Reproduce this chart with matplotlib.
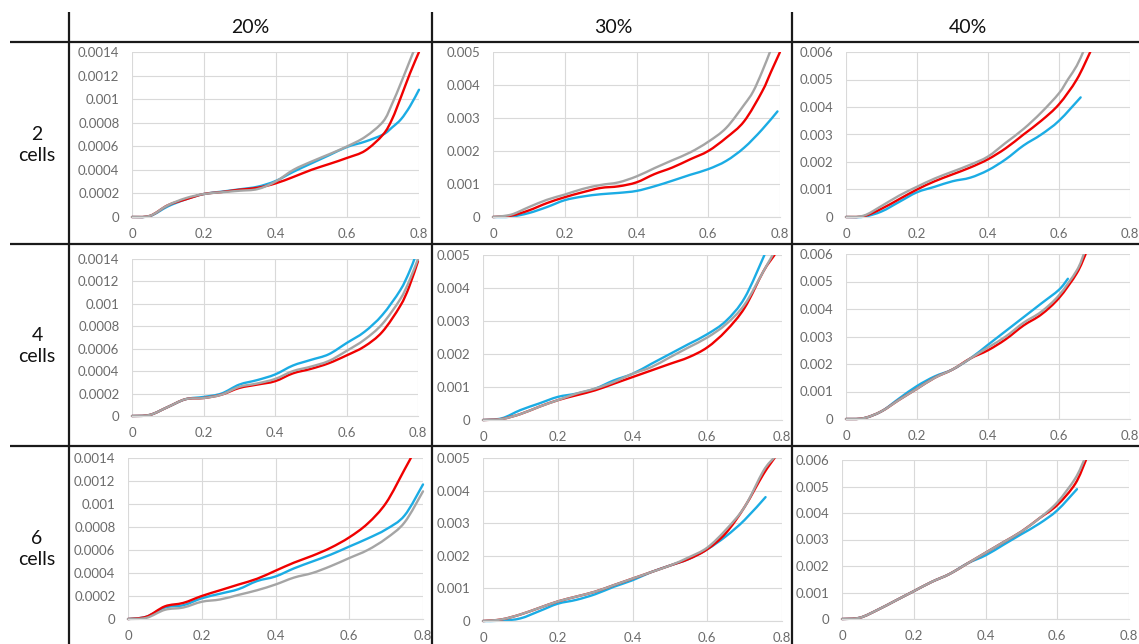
import numpy as np
import matplotlib
matplotlib.use("Agg")
import matplotlib.pyplot as plt
from matplotlib.patches import Rectangle, PathPatch
from matplotlib.path import Path
from matplotlib.ticker import FuncFormatter, FixedLocator

plt.rcParams['font.family'] = ['Lato', 'DejaVu Sans']

# ---------------------------------------------------------------- data
column_labels = ["20%", "30%", "40%"]
row_labels = ["2\ncells", "4\ncells", "6\ncells"]
x_ticks = [0, 0.2, 0.4, 0.6, 0.8]
y_max = [0.0014, 0.005, 0.006]
y_step = [0.0002, 0.001, 0.001]

# 2 cells, 20 %
c2_p20_red = [(0, 0), (0.05, 0.00001), (0.1, 0.0001), (0.15, 0.00015), (0.2, 0.000195),
              (0.25, 0.000212), (0.3, 0.000232), (0.35, 0.000248), (0.4, 0.000285),
              (0.45, 0.00034), (0.5, 0.0004), (0.55, 0.00045), (0.6, 0.000502),
              (0.65, 0.000563), (0.7, 0.0007), (0.725, 0.00083), (0.75, 0.00102),
              (0.775, 0.00122), (0.8, 0.0014)]
c2_p20_blue = [(0, 0), (0.05, 0.000008), (0.1, 0.00009), (0.15, 0.00015), (0.2, 0.000195),
               (0.25, 0.000215), (0.3, 0.000235), (0.35, 0.000257), (0.4, 0.000305),
               (0.45, 0.000384), (0.5, 0.000455), (0.55, 0.000525), (0.6, 0.000595),
               (0.65, 0.00064), (0.7, 0.0007), (0.725, 0.00076), (0.75, 0.00083),
               (0.775, 0.00094), (0.8, 0.00108)]
c2_p20_gray = [(0, 0), (0.05, 0.00001), (0.1, 0.0001), (0.15, 0.00016), (0.2, 0.000195),
               (0.25, 0.00021), (0.3, 0.000223), (0.35, 0.000237), (0.4, 0.0003),
               (0.45, 0.0004), (0.5, 0.00047), (0.55, 0.000533), (0.6, 0.0006),
               (0.65, 0.00068), (0.7, 0.00081), (0.725, 0.00096), (0.75, 0.00114),
               (0.775, 0.00133), (0.8, 0.00152)]

# 2 cells, 30 %
c2_p30_red = [(0, 0), (0.05, 0.00004), (0.1, 0.0002), (0.15, 0.00042), (0.2, 0.0006),
              (0.25, 0.00075), (0.3, 0.00088), (0.35, 0.00093), (0.4, 0.00105),
              (0.45, 0.0013), (0.5, 0.0015), (0.55, 0.00175), (0.6, 0.002),
              (0.65, 0.0024), (0.7, 0.0029), (0.75, 0.0038), (0.775, 0.0044), (0.8, 0.005)]
c2_p30_blue = [(0, 0), (0.05, 0.00001), (0.1, 0.00012), (0.15, 0.0003), (0.2, 0.00051),
               (0.25, 0.00062), (0.3, 0.00069), (0.35, 0.00073), (0.4, 0.00079),
               (0.45, 0.00093), (0.5, 0.0011), (0.55, 0.00128), (0.6, 0.00145),
               (0.65, 0.0017), (0.7, 0.0021), (0.75, 0.00265), (0.793, 0.0032)]
c2_p30_gray = [(0, 0), (0.05, 0.00007), (0.1, 0.0003), (0.15, 0.00052), (0.2, 0.00068),
               (0.25, 0.00085), (0.3, 0.00097), (0.35, 0.00105), (0.4, 0.00123),
               (0.45, 0.00148), (0.5, 0.00172), (0.55, 0.00196), (0.6, 0.00228),
               (0.65, 0.0027), (0.7, 0.0034), (0.725, 0.0038), (0.75, 0.0044),
               (0.772, 0.005)]

# 2 cells, 40 %
c2_p40_red = [(0, 0), (0.05, 0.00003), (0.1, 0.0003), (0.15, 0.00065), (0.2, 0.001),
              (0.25, 0.0013), (0.3, 0.00155), (0.35, 0.0018), (0.4, 0.0021), (0.45, 0.0025),
              (0.5, 0.003), (0.55, 0.0035), (0.6, 0.0041), (0.65, 0.005), (0.688, 0.006)]
c2_p40_blue = [(0, 0), (0.05, 0.00001), (0.1, 0.0002), (0.15, 0.00055), (0.2, 0.0009),
               (0.25, 0.0011), (0.3, 0.0013), (0.35, 0.00143), (0.4, 0.0017),
               (0.45, 0.0021), (0.5, 0.0026), (0.55, 0.003), (0.6, 0.0035), (0.661, 0.00435)]
c2_p40_gray = [(0, 0), (0.05, 0.00005), (0.1, 0.0004), (0.15, 0.00078), (0.2, 0.0011),
               (0.25, 0.0014), (0.3, 0.00165), (0.35, 0.0019), (0.4, 0.0022), (0.45, 0.0027),
               (0.5, 0.0032), (0.55, 0.0038), (0.6, 0.0045), (0.625, 0.005), (0.65, 0.0055),
               (0.668, 0.006)]

# 4 cells, 20 %
c4_p20_red = [(0, 0), (0.05, 0.00001), (0.1, 0.00008), (0.15, 0.00015), (0.2, 0.00016),
              (0.25, 0.00019), (0.3, 0.00025), (0.35, 0.00028), (0.4, 0.00031),
              (0.45, 0.00038), (0.5, 0.00042), (0.55, 0.00047), (0.6, 0.00054),
              (0.65, 0.00062), (0.7, 0.00075), (0.75, 0.00098), (0.775, 0.00115),
              (0.8, 0.00138)]
c4_p20_blue = [(0, 0), (0.05, 0.00001), (0.1, 0.00008), (0.15, 0.00015), (0.2, 0.00017),
               (0.25, 0.0002), (0.3, 0.00028), (0.35, 0.00032), (0.4, 0.00037),
               (0.45, 0.00045), (0.5, 0.0005), (0.55, 0.00055), (0.6, 0.00065),
               (0.65, 0.00075), (0.7, 0.0009), (0.75, 0.00112), (0.775, 0.00128),
               (0.79, 0.0014)]
c4_p20_gray = [(0, 0), (0.05, 0.00001), (0.1, 0.00008), (0.15, 0.00015), (0.2, 0.00016),
               (0.25, 0.00019), (0.3, 0.00026), (0.35, 0.00029), (0.4, 0.00033),
               (0.45, 0.0004), (0.5, 0.00044), (0.55, 0.00049), (0.6, 0.00058),
               (0.65, 0.00068), (0.7, 0.00082), (0.75, 0.00104), (0.775, 0.0012),
               (0.8, 0.0014)]

# 4 cells, 30 %
c4_p30_red = [(0, 0), (0.05, 0.00003), (0.1, 0.00018), (0.15, 0.0004), (0.2, 0.0006),
              (0.25, 0.00075), (0.3, 0.0009), (0.35, 0.0011), (0.4, 0.0013), (0.45, 0.0015),
              (0.5, 0.0017), (0.55, 0.0019), (0.6, 0.0022), (0.65, 0.0027), (0.7, 0.0034),
              (0.75, 0.0045), (0.78, 0.005)]
c4_p30_blue = [(0, 0), (0.05, 0.00005), (0.1, 0.0003), (0.15, 0.0005), (0.2, 0.0007),
               (0.25, 0.0008), (0.3, 0.00095), (0.35, 0.0012), (0.4, 0.0014), (0.45, 0.0017),
               (0.5, 0.002), (0.55, 0.0023), (0.6, 0.0026), (0.65, 0.003), (0.7, 0.0037),
               (0.753, 0.005)]
c4_p30_gray = [(0, 0), (0.05, 0.00003), (0.1, 0.00018), (0.15, 0.0004), (0.2, 0.0006),
               (0.25, 0.0008), (0.3, 0.00095), (0.35, 0.00115), (0.4, 0.0014),
               (0.45, 0.0016), (0.5, 0.0019), (0.55, 0.0022), (0.6, 0.0025), (0.65, 0.0029),
               (0.7, 0.0035), (0.75, 0.0045), (0.775, 0.005)]

# 4 cells, 40 %
c4_p40_red = [(0, 0), (0.05, 0.00003), (0.1, 0.00028), (0.15, 0.0007), (0.2, 0.0011),
              (0.25, 0.0015), (0.3, 0.0018), (0.35, 0.0022), (0.4, 0.0025), (0.45, 0.0029),
              (0.5, 0.0034), (0.55, 0.0038), (0.6, 0.0044), (0.65, 0.0053), (0.675, 0.006)]
c4_p40_blue = [(0, 0), (0.05, 0.00003), (0.1, 0.00028), (0.15, 0.00075), (0.2, 0.0012),
               (0.25, 0.00155), (0.3, 0.0018), (0.35, 0.0022), (0.4, 0.0027),
               (0.45, 0.0032), (0.5, 0.0037), (0.55, 0.0042), (0.6, 0.0047), (0.625, 0.0051)]
c4_p40_gray = [(0, 0), (0.05, 0.00003), (0.1, 0.00028), (0.15, 0.0007), (0.2, 0.0011),
               (0.25, 0.0015), (0.3, 0.0018), (0.35, 0.0022), (0.4, 0.0026), (0.45, 0.003),
               (0.5, 0.0035), (0.55, 0.0039), (0.6, 0.0045), (0.65, 0.0054), (0.67, 0.006)]

# 6 cells, 20 %
c6_p20_red = [(0, 0), (0.05, 0.00002), (0.1, 0.00011), (0.15, 0.00014), (0.2, 0.0002),
              (0.25, 0.00025), (0.3, 0.0003), (0.35, 0.00035), (0.4, 0.00042),
              (0.45, 0.00049), (0.5, 0.00055), (0.55, 0.00062), (0.6, 0.00071),
              (0.65, 0.00083), (0.7, 0.00101), (0.75, 0.0013), (0.767, 0.0014)]
c6_p20_blue = [(0, 0), (0.05, 0.00002), (0.1, 0.0001), (0.15, 0.00012), (0.2, 0.00018),
               (0.25, 0.00022), (0.3, 0.00026), (0.35, 0.00033), (0.4, 0.00037),
               (0.45, 0.00044), (0.5, 0.0005), (0.55, 0.00056), (0.6, 0.00063),
               (0.65, 0.0007), (0.7, 0.00078), (0.75, 0.0009), (0.8, 0.00117)]
c6_p20_gray = [(0, 0), (0.05, 0.00001), (0.1, 0.00008), (0.15, 0.0001), (0.2, 0.00015),
               (0.25, 0.00017), (0.3, 0.00021), (0.35, 0.00025), (0.4, 0.0003),
               (0.45, 0.00036), (0.5, 0.0004), (0.55, 0.00046), (0.6, 0.00053),
               (0.65, 0.0006), (0.7, 0.0007), (0.75, 0.00084), (0.8, 0.00111)]

# 6 cells, 30 %
c6_p30_red = [(0, 0), (0.05, 0.00005), (0.1, 0.0002), (0.15, 0.0004), (0.2, 0.0006),
              (0.25, 0.00075), (0.3, 0.0009), (0.35, 0.0011), (0.4, 0.0013), (0.45, 0.0015),
              (0.5, 0.0017), (0.55, 0.0019), (0.6, 0.0022), (0.65, 0.0027), (0.7, 0.0035),
              (0.75, 0.0045), (0.78, 0.005)]
c6_p30_blue = [(0, 0), (0.05, 0.00001), (0.1, 0.00008), (0.15, 0.0003), (0.2, 0.00053),
               (0.25, 0.00065), (0.3, 0.00082), (0.35, 0.00105), (0.4, 0.00125),
               (0.45, 0.0015), (0.5, 0.0017), (0.55, 0.0019), (0.6, 0.0022), (0.65, 0.0026),
               (0.7, 0.0031), (0.756, 0.0038)]
c6_p30_gray = [(0, 0), (0.05, 0.00005), (0.1, 0.0002), (0.15, 0.0004), (0.2, 0.0006),
               (0.25, 0.00075), (0.3, 0.0009), (0.35, 0.0011), (0.4, 0.0013), (0.45, 0.0015),
               (0.5, 0.0017), (0.55, 0.00195), (0.6, 0.00225), (0.65, 0.0028), (0.7, 0.0035),
               (0.75, 0.0046), (0.778, 0.005)]

# 6 cells, 40 %
c6_p40_red = [(0, 0), (0.05, 0.00005), (0.1, 0.00035), (0.15, 0.0007), (0.2, 0.00105),
              (0.25, 0.0014), (0.3, 0.0017), (0.35, 0.0021), (0.4, 0.0025), (0.45, 0.0029),
              (0.5, 0.0033), (0.55, 0.0038), (0.6, 0.0043), (0.65, 0.0051), (0.68, 0.006)]
c6_p40_blue = [(0, 0), (0.05, 0.00005), (0.1, 0.00035), (0.15, 0.0007), (0.2, 0.00105),
               (0.25, 0.0014), (0.3, 0.0017), (0.35, 0.0021), (0.4, 0.0024), (0.45, 0.0028),
               (0.5, 0.0032), (0.55, 0.0036), (0.6, 0.0041), (0.655, 0.0049)]
c6_p40_gray = [(0, 0), (0.05, 0.00005), (0.1, 0.00035), (0.15, 0.0007), (0.2, 0.00105),
               (0.25, 0.0014), (0.3, 0.0017), (0.35, 0.0021), (0.4, 0.0025), (0.45, 0.0029),
               (0.5, 0.0033), (0.55, 0.0038), (0.6, 0.0044), (0.65, 0.0053), (0.675, 0.006)]

panels = [
    [(c2_p20_blue, c2_p20_red, c2_p20_gray), (c2_p30_blue, c2_p30_red, c2_p30_gray),
     (c2_p40_blue, c2_p40_red, c2_p40_gray)],
    [(c4_p20_blue, c4_p20_red, c4_p20_gray), (c4_p30_blue, c4_p30_red, c4_p30_gray),
     (c4_p40_blue, c4_p40_red, c4_p40_gray)],
    [(c6_p20_blue, c6_p20_red, c6_p20_gray), (c6_p30_blue, c6_p30_red, c6_p30_gray),
     (c6_p40_blue, c6_p40_red, c6_p40_gray)],
]

# ---------------------------------------------------------------- layout
W, H = 1139, 644
series_colors = ["#1BACE4", "#F00000", "#A5A5A5"]
grid_color = "#D9D9D9"
tick_color = "#6B6B6B"

# plot-area boxes in pixels: (left, right, top, bottom)
boxes = [
    [(132, 419, 52, 217), (493, 780, 52, 217), (846, 1130, 52, 217)],
    [(132, 418, 259, 416), (483, 782, 255, 420), (846, 1130, 254, 419)],
    [(128, 423, 458, 619), (483, 782, 458, 621), (842, 1129, 460, 619)],
]


def smooth_path(pts):
    """Smoothed (Catmull-Rom style) path through the given points."""
    p = np.asarray(pts, dtype=float)
    ext = np.vstack([p[0], p, p[-1]])
    verts = [p[0]]
    codes = [Path.MOVETO]
    for i in range(1, len(ext) - 2):
        p0, p1, p2, p3 = ext[i - 1], ext[i], ext[i + 1], ext[i + 2]
        verts += [p1 + (p2 - p0) / 6.0, p2 - (p3 - p1) / 6.0, p2]
        codes += [Path.CURVE4] * 3
    return Path(verts, codes)


fig = plt.figure(figsize=(W / 100, H / 100), dpi=100)
fig.patch.set_facecolor("white")

# table frame and headings
frame = fig.add_axes([0, 0, 1, 1])
frame.set_xlim(0, W)
frame.set_ylim(H, 0)
frame.axis("off")
rule = dict(color="#1A1A1A", lw=1.6, solid_capstyle="butt")
for xv in (69, 432, 792):
    frame.plot([xv, xv], [12, H], **rule)
for yv in (42, 244, 446):
    frame.plot([10, W], [yv, yv], **rule)
for label, xc in zip(column_labels, (250, 613, 968)):
    frame.text(xc, 27, label, ha="center", va="center", fontsize=14, color="#111111")
for label, yc in zip(row_labels, (145, 346, 549)):
    frame.text(37, yc, label, ha="center", va="center", fontsize=14,
               color="#111111", linespacing=1.22)


def tick_text(v, _):
    if abs(v) < 1e-12:
        return "0"
    return f"{v:.4f}".rstrip("0").rstrip(".")


for r in range(3):
    for c in range(3):
        left, right, top, bottom = boxes[r][c]
        ax = fig.add_axes([left / W, 1 - bottom / H, (right - left) / W, (bottom - top) / H])
        ax.set_facecolor("none")
        ax.set_xlim(0, 0.8)
        ax.set_ylim(0, y_max[c])
        n = int(round(y_max[c] / y_step[c]))
        ax.yaxis.set_major_locator(FixedLocator(np.linspace(0, y_max[c], n + 1)))
        ax.yaxis.set_major_formatter(FuncFormatter(tick_text))
        ax.xaxis.set_major_locator(FixedLocator(x_ticks))
        ax.xaxis.set_major_formatter(FuncFormatter(tick_text))
        ax.grid(True, color=grid_color, lw=0.8)
        ax.set_axisbelow(True)
        for side in ("top", "right", "left"):
            ax.spines[side].set_visible(False)
        ax.spines["bottom"].set_color(grid_color)
        ax.spines["bottom"].set_linewidth(0.8)
        ax.tick_params(length=0, labelsize=9.5, labelcolor=tick_color)
        ax.tick_params(axis="y", pad=9)
        ax.tick_params(axis="x", pad=8)
        clip = Rectangle((-0.05, -0.05), 1.1, 1.05, transform=ax.transAxes,
                         facecolor="none", edgecolor="none")
        ax.add_patch(clip)
        for pts, col in zip(panels[r][c], series_colors):
            curve = PathPatch(smooth_path(pts), facecolor="none", edgecolor=col,
                              lw=1.7, capstyle="round", joinstyle="round",
                              transform=ax.transData)
            ax.add_patch(curve)
            curve.set_clip_path(clip)

fig.savefig("out.png", dpi=100)
